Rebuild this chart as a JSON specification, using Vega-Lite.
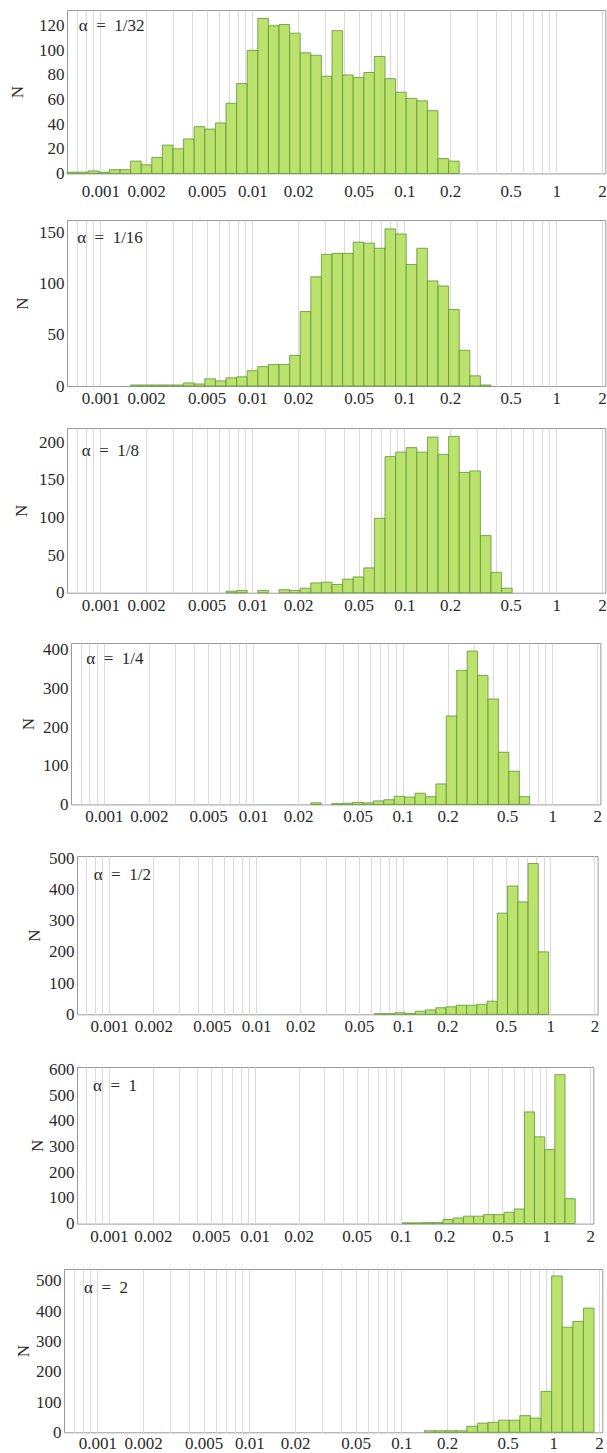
{
 "$schema": "https://vega.github.io/schema/vega-lite/v6.json",
 "padding": {"left": 0, "top": 0, "right": 0, "bottom": 0},
 "spacing": 0,
 "config": {
  "font": "Liberation Serif",
  "view": {"stroke": "#9a9a9a", "strokeWidth": 1},
  "axis": {"labelFont": "Liberation Serif", "labelFontSize": 17, "labelColor": "#2a2a2a", "ticks": false, "tickSize": 0, "domain": false, "titleFont": "Liberation Serif", "titleFontSize": 17, "titleFontWeight": "normal", "titleColor": "#2a2a2a", "labelOverlap": false, "labelFlush": false},
  "axisX": {"grid": true, "gridColor": "#dadada", "gridWidth": 1},
  "axisY": {"grid": false, "labelPadding": 3, "titleAngle": 270, "titleAlign": "center", "titleBaseline": "middle"},
  "bar": {"fill": "#b4e061", "fillOpacity": 0.92, "stroke": "#5e9636", "strokeWidth": 0.8},
  "text": {"font": "Liberation Serif", "fontSize": 17, "align": "left", "baseline": "middle", "color": "#2a2a2a"}
 },
 "vconcat": [
  {"hconcat": [
   {"width": 67, "height": 204.3, "data": {"values": []}, "mark": "point", "view": {"stroke": null}},
   {"vconcat": [
    {"width": 10, "height": 9.3, "data": {"values": []}, "mark": "point", "view": {"stroke": null}},
    {"width": 538.3, "height": 163.4,
    "data": {"values": [
     {"x": 0.00060383, "x2": 0.00070899, "n": 1},
     {"x": 0.00070899, "x2": 0.00083247, "n": 1},
     {"x": 0.00083247, "x2": 0.00097749, "n": 2},
     {"x": 0.00097749, "x2": 0.0011478, "n": 1},
     {"x": 0.0011478, "x2": 0.0013477, "n": 3},
     {"x": 0.0013477, "x2": 0.0015824, "n": 3},
     {"x": 0.0015824, "x2": 0.0018581, "n": 10},
     {"x": 0.0018581, "x2": 0.0021817, "n": 7},
     {"x": 0.0021817, "x2": 0.0025617, "n": 13},
     {"x": 0.0025617, "x2": 0.0030079, "n": 23},
     {"x": 0.0030079, "x2": 0.0035319, "n": 20},
     {"x": 0.0035319, "x2": 0.0041471, "n": 28},
     {"x": 0.0041471, "x2": 0.0048694, "n": 38},
     {"x": 0.0048694, "x2": 0.0057177, "n": 36},
     {"x": 0.0057177, "x2": 0.0067135, "n": 41},
     {"x": 0.0067135, "x2": 0.007883, "n": 57},
     {"x": 0.007883, "x2": 0.0092561, "n": 73},
     {"x": 0.0092561, "x2": 0.010868, "n": 100},
     {"x": 0.010868, "x2": 0.012762, "n": 126},
     {"x": 0.012762, "x2": 0.014984, "n": 120},
     {"x": 0.014984, "x2": 0.017595, "n": 121},
     {"x": 0.017595, "x2": 0.020659, "n": 114},
     {"x": 0.020659, "x2": 0.024258, "n": 98},
     {"x": 0.024258, "x2": 0.028483, "n": 96},
     {"x": 0.028483, "x2": 0.033444, "n": 79},
     {"x": 0.033444, "x2": 0.03927, "n": 116},
     {"x": 0.03927, "x2": 0.046111, "n": 80},
     {"x": 0.046111, "x2": 0.054141, "n": 78},
     {"x": 0.054141, "x2": 0.063573, "n": 82},
     {"x": 0.063573, "x2": 0.074646, "n": 95},
     {"x": 0.074646, "x2": 0.087648, "n": 77},
     {"x": 0.087648, "x2": 0.10292, "n": 66},
     {"x": 0.10292, "x2": 0.12084, "n": 61},
     {"x": 0.12084, "x2": 0.14189, "n": 59},
     {"x": 0.14189, "x2": 0.16661, "n": 51},
     {"x": 0.16661, "x2": 0.19563, "n": 12},
     {"x": 0.19563, "x2": 0.22971, "n": 10}
    ]},
    "encoding": {
     "x": {"field": "x", "type": "quantitative", "scale": {"type": "log", "domain": [0.00060383, 2.1], "nice": false},
           "axis": {"title": null, "labelPadding": 9.6, "labelOverlap": false, "labelFlush": false, "format": "~g", "values": [0.0007,0.0008,0.0009,0.001,0.002,0.003,0.004,0.005,0.006,0.007,0.008,0.009,0.01,0.02,0.03,0.04,0.05,0.06,0.07,0.08,0.09,0.1,0.2,0.3,0.4,0.5,0.6,0.7,0.8,0.9,1,2], "labelExpr": "test(/^[0.]*[125]$/, datum.label) ? datum.label : ''"}},
     "y": {"field": "n", "type": "quantitative", "stack": null, "scale": {"domain": [0, 132.8], "nice": false},
           "axis": {"values": [0,20,40,60,80,100,120], "labelOverlap": false, "title": "N", "titleX": -49.5, "titleY": 81.7}}
    },
    "layer": [
     {"mark": "bar", "encoding": {"x2": {"field": "x2"}, "y2": {"datum": 0}}},
     {"data": {"values": [{"x": 0.000722, "n": 120, "t": "α\u2002=\u20021/32"}]}, "mark": "text", "encoding": {"text": {"field": "t"}}}
    ]}
   ], "spacing": 0, "bounds": "flush"}
  ], "spacing": 0, "bounds": "flush"},

  {"hconcat": [
   {"width": 67, "height": 208, "data": {"values": []}, "mark": "point", "view": {"stroke": null}},
   {"vconcat": [
    {"width": 10, "height": 15, "data": {"values": []}, "mark": "point", "view": {"stroke": null}},
    {"width": 538.3, "height": 166,
    "data": {"values": [
     {"x": 0.0015824, "x2": 0.0018581, "n": 1},
     {"x": 0.0018581, "x2": 0.0021817, "n": 1},
     {"x": 0.0021817, "x2": 0.0025617, "n": 1},
     {"x": 0.0025617, "x2": 0.0030079, "n": 1},
     {"x": 0.0030079, "x2": 0.0035319, "n": 1},
     {"x": 0.0035319, "x2": 0.0041471, "n": 3},
     {"x": 0.0041471, "x2": 0.0048694, "n": 2},
     {"x": 0.0048694, "x2": 0.0057177, "n": 7},
     {"x": 0.0057177, "x2": 0.0067135, "n": 5},
     {"x": 0.0067135, "x2": 0.007883, "n": 8},
     {"x": 0.007883, "x2": 0.0092561, "n": 9},
     {"x": 0.0092561, "x2": 0.010868, "n": 15},
     {"x": 0.010868, "x2": 0.012762, "n": 19},
     {"x": 0.012762, "x2": 0.014984, "n": 21},
     {"x": 0.014984, "x2": 0.017595, "n": 21},
     {"x": 0.017595, "x2": 0.020659, "n": 30},
     {"x": 0.020659, "x2": 0.024258, "n": 73},
     {"x": 0.024258, "x2": 0.028483, "n": 107},
     {"x": 0.028483, "x2": 0.033444, "n": 129},
     {"x": 0.033444, "x2": 0.03927, "n": 130},
     {"x": 0.03927, "x2": 0.046111, "n": 130},
     {"x": 0.046111, "x2": 0.054141, "n": 141},
     {"x": 0.054141, "x2": 0.063573, "n": 140},
     {"x": 0.063573, "x2": 0.074646, "n": 135},
     {"x": 0.074646, "x2": 0.087648, "n": 154},
     {"x": 0.087648, "x2": 0.10292, "n": 149},
     {"x": 0.10292, "x2": 0.12084, "n": 119},
     {"x": 0.12084, "x2": 0.14189, "n": 135},
     {"x": 0.14189, "x2": 0.16661, "n": 103},
     {"x": 0.16661, "x2": 0.19563, "n": 98},
     {"x": 0.19563, "x2": 0.22971, "n": 75},
     {"x": 0.22971, "x2": 0.26971, "n": 35},
     {"x": 0.26971, "x2": 0.31669, "n": 10},
     {"x": 0.31669, "x2": 0.37186, "n": 1}
    ]},
    "encoding": {
     "x": {"field": "x", "type": "quantitative", "scale": {"type": "log", "domain": [0.00060383, 2.1], "nice": false},
           "axis": {"title": null, "labelPadding": 4.4, "labelOverlap": false, "labelFlush": false, "format": "~g", "values": [0.0007,0.0008,0.0009,0.001,0.002,0.003,0.004,0.005,0.006,0.007,0.008,0.009,0.01,0.02,0.03,0.04,0.05,0.06,0.07,0.08,0.09,0.1,0.2,0.3,0.4,0.5,0.6,0.7,0.8,0.9,1,2], "labelExpr": "test(/^[0.]*[125]$/, datum.label) ? datum.label : ''"}},
     "y": {"field": "n", "type": "quantitative", "stack": null, "scale": {"domain": [0, 162.7], "nice": false},
           "axis": {"values": [0,50,100,150], "labelOverlap": false, "title": "N", "titleX": -44.7, "titleY": 83}}
    },
    "layer": [
     {"mark": "bar", "encoding": {"x2": {"field": "x2"}, "y2": {"datum": 0}}},
     {"data": {"values": [{"x": 0.000704, "n": 144.7, "t": "α\u2002=\u20021/16"}]}, "mark": "text", "encoding": {"text": {"field": "t"}}}
    ]}
   ], "spacing": 0, "bounds": "flush"}
  ], "spacing": 0, "bounds": "flush"},

  {"hconcat": [
   {"width": 67, "height": 215, "data": {"values": []}, "mark": "point", "view": {"stroke": null}},
   {"vconcat": [
    {"width": 10, "height": 15, "data": {"values": []}, "mark": "point", "view": {"stroke": null}},
    {"width": 538.3, "height": 164.7,
    "data": {"values": [
     {"x": 0.0067135, "x2": 0.007883, "n": 2},
     {"x": 0.007883, "x2": 0.0092561, "n": 3},
     {"x": 0.010868, "x2": 0.012762, "n": 3},
     {"x": 0.014984, "x2": 0.017595, "n": 4},
     {"x": 0.017595, "x2": 0.020659, "n": 3},
     {"x": 0.020659, "x2": 0.024258, "n": 6},
     {"x": 0.024258, "x2": 0.028483, "n": 13},
     {"x": 0.028483, "x2": 0.033444, "n": 14},
     {"x": 0.033444, "x2": 0.03927, "n": 11},
     {"x": 0.03927, "x2": 0.046111, "n": 18},
     {"x": 0.046111, "x2": 0.054141, "n": 21},
     {"x": 0.054141, "x2": 0.063573, "n": 33},
     {"x": 0.063573, "x2": 0.074646, "n": 99},
     {"x": 0.074646, "x2": 0.087648, "n": 181},
     {"x": 0.087648, "x2": 0.10292, "n": 187},
     {"x": 0.10292, "x2": 0.12084, "n": 193},
     {"x": 0.12084, "x2": 0.14189, "n": 187},
     {"x": 0.14189, "x2": 0.16661, "n": 207},
     {"x": 0.16661, "x2": 0.19563, "n": 184},
     {"x": 0.19563, "x2": 0.22971, "n": 208},
     {"x": 0.22971, "x2": 0.26971, "n": 160},
     {"x": 0.26971, "x2": 0.31669, "n": 162},
     {"x": 0.31669, "x2": 0.37186, "n": 76},
     {"x": 0.37186, "x2": 0.43663, "n": 27},
     {"x": 0.43663, "x2": 0.51268, "n": 6}
    ]},
    "encoding": {
     "x": {"field": "x", "type": "quantitative", "scale": {"type": "log", "domain": [0.00060383, 2.1], "nice": false},
           "axis": {"title": null, "labelPadding": 4.4, "labelOverlap": false, "labelFlush": false, "format": "~g", "values": [0.0007,0.0008,0.0009,0.001,0.002,0.003,0.004,0.005,0.006,0.007,0.008,0.009,0.01,0.02,0.03,0.04,0.05,0.06,0.07,0.08,0.09,0.1,0.2,0.3,0.4,0.5,0.6,0.7,0.8,0.9,1,2], "labelExpr": "test(/^[0.]*[125]$/, datum.label) ? datum.label : ''"}},
     "y": {"field": "n", "type": "quantitative", "stack": null, "scale": {"domain": [0, 219.1], "nice": false},
           "axis": {"values": [0,50,100,150,200], "labelOverlap": false, "title": "N", "titleX": -45.9, "titleY": 82.3}}
    },
    "layer": [
     {"mark": "bar", "encoding": {"x2": {"field": "x2"}, "y2": {"datum": 0}}},
     {"data": {"values": [{"x": 0.000755, "n": 188, "t": "α\u2002=\u20021/8"}]}, "mark": "text", "encoding": {"text": {"field": "t"}}}
    ]}
   ], "spacing": 0, "bounds": "flush"}
  ], "spacing": 0, "bounds": "flush"},

  {"hconcat": [
   {"width": 70.7, "height": 212.7, "data": {"values": []}, "mark": "point", "view": {"stroke": null}},
   {"vconcat": [
    {"width": 10, "height": 15, "data": {"values": []}, "mark": "point", "view": {"stroke": null}},
    {"width": 529.4, "height": 161.4,
    "data": {"values": [
     {"x": 0.024258, "x2": 0.028483, "n": 4},
     {"x": 0.033444, "x2": 0.03927, "n": 2},
     {"x": 0.03927, "x2": 0.046111, "n": 3},
     {"x": 0.046111, "x2": 0.054141, "n": 5},
     {"x": 0.054141, "x2": 0.063573, "n": 4},
     {"x": 0.063573, "x2": 0.074646, "n": 9},
     {"x": 0.074646, "x2": 0.087648, "n": 12},
     {"x": 0.087648, "x2": 0.10292, "n": 21},
     {"x": 0.10292, "x2": 0.12084, "n": 19},
     {"x": 0.12084, "x2": 0.14189, "n": 29},
     {"x": 0.14189, "x2": 0.16661, "n": 20},
     {"x": 0.16661, "x2": 0.19563, "n": 53},
     {"x": 0.19563, "x2": 0.22971, "n": 229},
     {"x": 0.22971, "x2": 0.26971, "n": 347},
     {"x": 0.26971, "x2": 0.31669, "n": 397},
     {"x": 0.31669, "x2": 0.37186, "n": 334},
     {"x": 0.37186, "x2": 0.43663, "n": 273},
     {"x": 0.43663, "x2": 0.51268, "n": 135},
     {"x": 0.51268, "x2": 0.60199, "n": 86},
     {"x": 0.60199, "x2": 0.70684, "n": 20}
    ]},
    "encoding": {
     "x": {"field": "x", "type": "quantitative", "scale": {"type": "log", "domain": [0.00060383, 2.1], "nice": false},
           "axis": {"title": null, "labelPadding": 4.4, "labelOverlap": false, "labelFlush": false, "format": "~g", "values": [0.0007,0.0008,0.0009,0.001,0.002,0.003,0.004,0.005,0.006,0.007,0.008,0.009,0.01,0.02,0.03,0.04,0.05,0.06,0.07,0.08,0.09,0.1,0.2,0.3,0.4,0.5,0.6,0.7,0.8,0.9,1,2], "labelExpr": "test(/^[0.]*[125]$/, datum.label) ? datum.label : ''"}},
     "y": {"field": "n", "type": "quantitative", "stack": null, "scale": {"domain": [0, 418], "nice": false},
           "axis": {"values": [0,100,200,300,400], "labelOverlap": false, "title": "N", "titleX": -42.7, "titleY": 80.7}}
    },
    "layer": [
     {"mark": "bar", "encoding": {"x2": {"field": "x2"}, "y2": {"datum": 0}}},
     {"data": {"values": [{"x": 0.000764, "n": 376.8, "t": "α\u2002=\u20021/4"}]}, "mark": "text", "encoding": {"text": {"field": "t"}}}
    ]}
   ], "spacing": 0, "bounds": "flush"}
  ], "spacing": 0, "bounds": "flush"},

  {"hconcat": [
   {"width": 76.3, "height": 210.7, "data": {"values": []}, "mark": "point", "view": {"stroke": null}},
   {"vconcat": [
    {"width": 10, "height": 15, "data": {"values": []}, "mark": "point", "view": {"stroke": null}},
    {"width": 520.6, "height": 158.3,
    "data": {"values": [
     {"x": 0.063573, "x2": 0.074646, "n": 2},
     {"x": 0.074646, "x2": 0.087648, "n": 2},
     {"x": 0.087648, "x2": 0.10292, "n": 5},
     {"x": 0.10292, "x2": 0.12084, "n": 3},
     {"x": 0.12084, "x2": 0.14189, "n": 10},
     {"x": 0.14189, "x2": 0.16661, "n": 14},
     {"x": 0.16661, "x2": 0.19563, "n": 21},
     {"x": 0.19563, "x2": 0.22971, "n": 24},
     {"x": 0.22971, "x2": 0.26971, "n": 29},
     {"x": 0.26971, "x2": 0.31669, "n": 29},
     {"x": 0.31669, "x2": 0.37186, "n": 32},
     {"x": 0.37186, "x2": 0.43663, "n": 42},
     {"x": 0.43663, "x2": 0.51268, "n": 324},
     {"x": 0.51268, "x2": 0.60199, "n": 411},
     {"x": 0.60199, "x2": 0.70684, "n": 360},
     {"x": 0.70684, "x2": 0.82997, "n": 483},
     {"x": 0.82997, "x2": 0.97454, "n": 200}
    ]},
    "encoding": {
     "x": {"field": "x", "type": "quantitative", "scale": {"type": "log", "domain": [0.00060383, 2.1], "nice": false},
           "axis": {"title": null, "labelPadding": 4.4, "labelOverlap": false, "labelFlush": false, "format": "~g", "values": [0.0007,0.0008,0.0009,0.001,0.002,0.003,0.004,0.005,0.006,0.007,0.008,0.009,0.01,0.02,0.03,0.04,0.05,0.06,0.07,0.08,0.09,0.1,0.2,0.3,0.4,0.5,0.6,0.7,0.8,0.9,1,2], "labelExpr": "test(/^[0.]*[125]$/, datum.label) ? datum.label : ''"}},
     "y": {"field": "n", "type": "quantitative", "stack": null, "scale": {"domain": [0, 507], "nice": false},
           "axis": {"values": [0,100,200,300,400,500], "labelOverlap": false, "title": "N", "titleX": -42.4, "titleY": 79.2}}
    },
    "layer": [
     {"mark": "bar", "encoding": {"x2": {"field": "x2"}, "y2": {"datum": 0}}},
     {"data": {"values": [{"x": 0.0007845, "n": 445.5, "t": "α\u2002=\u20021/2"}]}, "mark": "text", "encoding": {"text": {"field": "t"}}}
    ]}
   ], "spacing": 0, "bounds": "flush"}
  ], "spacing": 0, "bounds": "flush"},

  {"hconcat": [
   {"width": 77, "height": 202, "data": {"values": []}, "mark": "point", "view": {"stroke": null}},
   {"vconcat": [
    {"width": 10, "height": 15, "data": {"values": []}, "mark": "point", "view": {"stroke": null}},
    {"width": 516.3, "height": 156.6,
    "data": {"values": [
     {"x": 0.10292, "x2": 0.12084, "n": 3},
     {"x": 0.12084, "x2": 0.14189, "n": 3},
     {"x": 0.14189, "x2": 0.16661, "n": 4},
     {"x": 0.16661, "x2": 0.19563, "n": 4},
     {"x": 0.19563, "x2": 0.22971, "n": 16},
     {"x": 0.22971, "x2": 0.26971, "n": 22},
     {"x": 0.26971, "x2": 0.31669, "n": 29},
     {"x": 0.31669, "x2": 0.37186, "n": 29},
     {"x": 0.37186, "x2": 0.43663, "n": 35},
     {"x": 0.43663, "x2": 0.51268, "n": 35},
     {"x": 0.51268, "x2": 0.60199, "n": 44},
     {"x": 0.60199, "x2": 0.70684, "n": 57},
     {"x": 0.70684, "x2": 0.82997, "n": 435},
     {"x": 0.82997, "x2": 0.97454, "n": 338},
     {"x": 0.97454, "x2": 1.1443, "n": 288},
     {"x": 1.1443, "x2": 1.3436, "n": 580},
     {"x": 1.3436, "x2": 1.5777, "n": 97}
    ]},
    "encoding": {
     "x": {"field": "x", "type": "quantitative", "scale": {"type": "log", "domain": [0.00060383, 2.1], "nice": false},
           "axis": {"title": null, "labelPadding": 4.4, "labelOverlap": false, "labelFlush": false, "format": "~g", "values": [0.0007,0.0008,0.0009,0.001,0.002,0.003,0.004,0.005,0.006,0.007,0.008,0.009,0.01,0.02,0.03,0.04,0.05,0.06,0.07,0.08,0.09,0.1,0.2,0.3,0.4,0.5,0.6,0.7,0.8,0.9,1,2], "labelExpr": "test(/^[0.]*[125]$/, datum.label) ? datum.label : ''"}},
     "y": {"field": "n", "type": "quantitative", "stack": null, "scale": {"domain": [0, 610], "nice": false},
           "axis": {"values": [0,100,200,300,400,500,600], "labelOverlap": false, "title": "N", "titleX": -39.6, "titleY": 78.3}}
    },
    "layer": [
     {"mark": "bar", "encoding": {"x2": {"field": "x2"}, "y2": {"datum": 0}}},
     {"data": {"values": [{"x": 0.0007775, "n": 537.6, "t": "α\u2002=\u20021"}]}, "mark": "text", "encoding": {"text": {"field": "t"}}}
    ]}
   ], "spacing": 0, "bounds": "flush"}
  ], "spacing": 0, "bounds": "flush"},

  {"hconcat": [
   {"width": 64, "height": 200, "data": {"values": []}, "mark": "point", "view": {"stroke": null}},
   {"vconcat": [
    {"width": 10, "height": 15, "data": {"values": []}, "mark": "point", "view": {"stroke": null}},
    {"width": 538.3, "height": 163.3,
    "data": {"values": [
     {"x": 0.14189, "x2": 0.16661, "n": 5},
     {"x": 0.16661, "x2": 0.19563, "n": 5},
     {"x": 0.19563, "x2": 0.22971, "n": 5},
     {"x": 0.22971, "x2": 0.26971, "n": 5},
     {"x": 0.26971, "x2": 0.31669, "n": 20},
     {"x": 0.31669, "x2": 0.37186, "n": 30},
     {"x": 0.37186, "x2": 0.43663, "n": 33},
     {"x": 0.43663, "x2": 0.51268, "n": 40},
     {"x": 0.51268, "x2": 0.60199, "n": 40},
     {"x": 0.60199, "x2": 0.70684, "n": 55},
     {"x": 0.70684, "x2": 0.82997, "n": 47},
     {"x": 0.82997, "x2": 0.97454, "n": 135},
     {"x": 0.97454, "x2": 1.1443, "n": 516},
     {"x": 1.1443, "x2": 1.3436, "n": 347},
     {"x": 1.3436, "x2": 1.5777, "n": 366},
     {"x": 1.5777, "x2": 1.8525, "n": 410}
    ]},
    "encoding": {
     "x": {"field": "x", "type": "quantitative", "scale": {"type": "log", "domain": [0.00060383, 2.1], "nice": false},
           "axis": {"title": null, "labelPadding": 3.6, "labelOverlap": false, "labelFlush": false, "format": "~g", "values": [0.0007,0.0008,0.0009,0.001,0.002,0.003,0.004,0.005,0.006,0.007,0.008,0.009,0.01,0.02,0.03,0.04,0.05,0.06,0.07,0.08,0.09,0.1,0.2,0.3,0.4,0.5,0.6,0.7,0.8,0.9,1,2], "labelExpr": "test(/^[0.]*[125]$/, datum.label) ? datum.label : ''"}},
     "y": {"field": "n", "type": "quantitative", "stack": null, "scale": {"domain": [0, 539], "nice": false},
           "axis": {"values": [0,100,200,300,400,500], "labelOverlap": false, "title": "N", "titleX": -40.8, "titleY": 81.6}}
    },
    "layer": [
     {"mark": "bar", "encoding": {"x2": {"field": "x2"}, "y2": {"datum": 0}}},
     {"data": {"values": [{"x": 0.0008176, "n": 476, "t": "α\u2002=\u20022"}]}, "mark": "text", "encoding": {"text": {"field": "t"}}}
    ]}
   ], "spacing": 0, "bounds": "flush"}
  ], "spacing": 0, "bounds": "flush"}
 ]
}
